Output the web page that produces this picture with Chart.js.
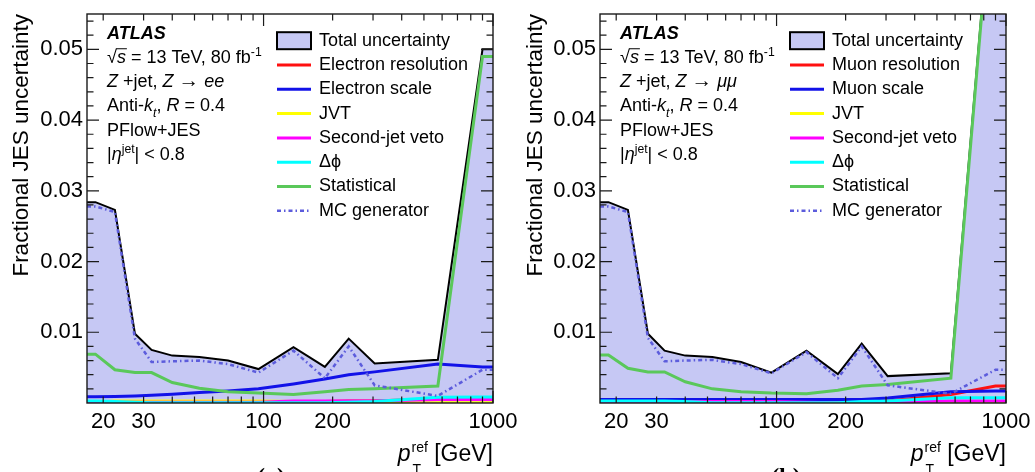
<!DOCTYPE html>
<html>
<head>
<meta charset="utf-8">
<title>Fractional JES uncertainty, Z+jet</title>
<script src="https://cdn.jsdelivr.net/npm/chart.js@4.4.0/dist/chart.umd.min.js"></script>
<style>
  html, body { margin: 0; padding: 0; background: #fff; }
  .panel { position: absolute; top: 0; width: 520px; height: 472px; }
</style>
</head>
<body>
<div class="panel" style="left:0"><canvas id="panelA" width="520" height="472"></canvas></div>
<div class="panel" style="left:515px"><canvas id="panelB" width="520" height="472"></canvas></div>
<script>
// pT(ref) points (GeV): bin centres, plus the two plot edges
const ptBins = [17, 18.5, 22.5, 27.5, 32.5, 40, 52.5, 70, 95, 135, 185, 235, 305, 575, 900, 1000];
const xTickLabels = [20, 30, 100, 200, 1000];
const yTickLabels = [0.01, 0.02, 0.03, 0.04, 0.05];

// (a) Z -> ee
const totalEE   = [0.0284, 0.0284, 0.0273, 0.0098, 0.0075, 0.0067, 0.0065, 0.0060, 0.0048, 0.0079, 0.0051, 0.0091, 0.0056, 0.0061, 0.0500, 0.0500];
const elResEE   = [0.0001, 0.0001, 0.0002, 0.0002, 0.0002, 0.0002, 0.0002, 0.0002, 0.0002, 0.0002, 0.0002, 0.0003, 0.0003, 0.0006, 0.0006, 0.0006];
const elScaleEE = [0.0009, 0.0009, 0.00092, 0.00098, 0.00108, 0.00125, 0.0015, 0.0017, 0.0020, 0.0027, 0.0034, 0.0040, 0.0044, 0.0055, 0.0051, 0.0051];
const jvtEE     = [0.0001, 0.0001, 0.0003, 0.0003, 0.0003, 0.0003, 0.0003, 0.0003, 0.0003, 0.0002, 0.0001, 0.0001, 0.00005, 0.00005, 0.00005, 0.00005];
const vetoEE    = [0.0001, 0.0001, 0.0001, 0.0001, 0.0001, 0.0001, 0.0001, 0.0001, 0.0001, 0.0003, 0.0003, 0.0003, 0.0003, 0.0005, 0.0005, 0.0005];
const dphiEE    = [0.0003, 0.0003, 0.0002, 0.0001, 0.00005, 0.00005, 0.00005, 0.00005, 0.00005, 0.00005, 0.00005, 0.0001, 0.0002, 0.0008, 0.00085, 0.00085];
const statEE    = [0.0069, 0.0069, 0.0047, 0.0043, 0.0043, 0.0029, 0.0021, 0.0016, 0.0014, 0.0012, 0.0016, 0.0019, 0.0020, 0.0024, 0.0490, 0.0490];
const mcEE      = [0.0278, 0.0278, 0.0270, 0.0091, 0.0058, 0.0059, 0.0060, 0.0055, 0.0043, 0.0074, 0.0035, 0.0080, 0.0025, 0.0010, 0.0047, 0.0047];

// (b) Z -> mumu
const totalMM   = [0.0284, 0.0284, 0.0273, 0.0098, 0.0074, 0.0067, 0.0065, 0.0058, 0.0043, 0.0074, 0.0041, 0.0084, 0.0038, 0.0042, 0.0785, 0.0785];
const muResMM   = [0.0002, 0.0002, 0.0002, 0.0002, 0.0002, 0.0002, 0.0002, 0.0002, 0.0002, 0.0002, 0.0002, 0.0002, 0.0003, 0.0012, 0.0024, 0.0024];
const muScaleMM = [0.0005, 0.0005, 0.0005, 0.0005, 0.0005, 0.0005, 0.0005, 0.0005, 0.0005, 0.0005, 0.0005, 0.0005, 0.0007, 0.0016, 0.0017, 0.0017];
const jvtMM     = [0.00005, 0.00005, 0.00005, 0.00005, 0.00005, 0.00005, 0.00005, 0.00005, 0.00005, 0.00005, 0.00005, 0.00005, 0.00005, 0.00005, 0.00005, 0.00005];
const vetoMM    = [0.0001, 0.0001, 0.0002, 0.0002, 0.0002, 0.0002, 0.0002, 0.0002, 0.0002, 0.0001, 0.00005, 0.00005, 0.0001, 0.0003, 0.0003, 0.0003];
const dphiMM    = [0.0003, 0.0003, 0.0003, 0.0003, 0.0003, 0.0002, 0.00005, 0.00005, 0.00005, 0.00005, 0.00005, 0.0002, 0.0003, 0.00075, 0.00075, 0.00075];
const statMM    = [0.0068, 0.0068, 0.0049, 0.0044, 0.0044, 0.0030, 0.0020, 0.0016, 0.0014, 0.0013, 0.0018, 0.0024, 0.0026, 0.0035, 0.0780, 0.0780];
const mcMM      = [0.0278, 0.0278, 0.0270, 0.0092, 0.0059, 0.0060, 0.0061, 0.0055, 0.0042, 0.0072, 0.0035, 0.0080, 0.0025, 0.0013, 0.0047, 0.0047];

const FONT = '"Liberation Sans", Arial, Helvetica, sans-serif';
const FILL = '#c6c8f4';
const xMinor = [20, 30, 40, 50, 60, 70, 80, 90, 100, 200, 300, 400, 500, 600, 700, 800, 900, 1000];

// draws a run of text pieces (italic / bold / sup / sub / overline)
function drawRich(ctx, x, y, parts, size) {
  let cx = x;
  for (const p of parts) {
    const small = p.sup || p.sub;
    const fs = (small ? size * 0.68 : size) * (p.scale || 1);
    ctx.font = (p.b ? 'bold ' : '') + (p.it ? 'italic ' : '') + fs + 'px ' + (p.f || FONT);
    const dy = p.sup ? -size * 0.4 : p.sub ? size * 0.3 : 0;
    ctx.fillText(p.t, cx, y + dy);
    const w = ctx.measureText(p.t).width;
    if (p.over) {
      ctx.beginPath();
      ctx.lineWidth = 1;
      ctx.moveTo(cx - 1, y - size * 0.78);
      ctx.lineTo(cx + w + 1, y - size * 0.78);
      ctx.stroke();
    }
    cx += w;
  }
}

const decor = {
  id: 'decor',
  afterDatasetsDraw(chart, args, o) {
    const ctx = chart.ctx;
    const a = chart.chartArea;
    const xs = chart.scales.x, ys = chart.scales.y;
    ctx.save();
    ctx.fillStyle = '#000';
    ctx.strokeStyle = '#1a1a1a';

    // frame and inward ticks
    ctx.lineWidth = 1.4;
    ctx.strokeRect(a.left, a.top, a.right - a.left, a.bottom - a.top);
    ctx.beginPath();
    ctx.lineWidth = 1.2;
    for (const v of xMinor) {
      const px = xs.getPixelForValue(v);
      const len = (v === 100 || v === 1000) ? 12 : 6.5;
      ctx.moveTo(px, a.bottom); ctx.lineTo(px, a.bottom - len);
      ctx.moveTo(px, a.top); ctx.lineTo(px, a.top + len);
    }
    for (let i = 1; i <= 27; i++) {
      const py = ys.getPixelForValue(i * 0.002);
      const len = i % 5 === 0 ? 12 : 6.5;
      ctx.moveTo(a.left, py); ctx.lineTo(a.left + len, py);
      ctx.moveTo(a.right, py); ctx.lineTo(a.right - len, py);
    }
    ctx.stroke();

    // info block
    ctx.textAlign = 'left';
    ctx.textBaseline = 'alphabetic';
    ctx.strokeStyle = '#000';
    const tx = a.left + 20, ty = a.top + 24.5, step = 24.3;
    const lines = [
      [{ t: 'ATLAS', b: 1, it: 1 }],
      [{ t: '\u221A' }, { t: 's', it: 1, over: 1 }, { t: ' = 13 TeV, 80 fb' }, { t: '-1', sup: 1 }],
      o.decay,
      [{ t: 'Anti-' }, { t: 'k', it: 1 }, { t: 't', it: 1, sub: 1 }, { t: ', ' }, { t: 'R', it: 1 }, { t: ' = 0.4' }],
      [{ t: 'PFlow+JES' }],
      [{ t: '|' }, { t: '\u03B7', it: 1 }, { t: 'jet', sup: 1 }, { t: '| < 0.8' }]
    ];
    lines.forEach((parts, i) => drawRich(ctx, tx, ty + i * step, parts, 18));

    // legend built from the datasets
    const lx = a.left + 190, lw = 34, ltx = a.left + 232;
    ctx.textBaseline = 'middle';
    ctx.font = '18px ' + FONT;
    chart.data.datasets.forEach((ds, i) => {
      const cy = a.top + 26.7 + i * 24.3;
      if (ds.fill) {
        ctx.fillStyle = ds.backgroundColor;
        ctx.fillRect(lx, cy - 8.5, lw, 17);
        ctx.lineWidth = 2;
        ctx.strokeStyle = '#000';
        ctx.strokeRect(lx, cy - 8.5, lw, 17);
      } else {
        ctx.beginPath();
        ctx.setLineDash(ds.borderDash || []);
        ctx.lineWidth = ds.borderWidth;
        ctx.strokeStyle = ds.borderColor;
        ctx.moveTo(lx, cy); ctx.lineTo(lx + lw, cy);
        ctx.stroke();
        ctx.setLineDash([]);
      }
      ctx.fillStyle = '#000';
      ctx.fillText(ds.label, ltx, cy);
    });

    // x axis title
    ctx.textBaseline = 'alphabetic';
    ctx.font = '23px ' + FONT;
    const gev = ' [GeV]';
    const wGev = ctx.measureText(gev).width;
    ctx.textAlign = 'right';
    ctx.fillText(gev, a.right, 461);
    ctx.textAlign = 'left';
    ctx.font = '14px ' + FONT;
    const wRef = ctx.measureText('ref').width;
    const rx = a.right - wGev - wRef;
    ctx.fillText('ref', rx, 452);
    ctx.fillText('T', rx + 1, 474);
    ctx.font = 'italic 23px ' + FONT;
    ctx.fillText('p', rx - ctx.measureText('p').width - 1, 461);

    // y axis title
    ctx.save();
    ctx.translate(o.yTitleX, a.top);
    ctx.rotate(-Math.PI / 2);
    ctx.textAlign = 'right';
    ctx.textBaseline = 'middle';
    ctx.font = '22.5px ' + FONT;
    ctx.fillText('Fractional JES uncertainty', 0, 0);
    ctx.restore();

    // sub-figure tag (cut by the page edge)
    ctx.textAlign = 'center';
    ctx.font = 'bold 24px "Liberation Serif", serif';
    ctx.fillText(o.tag, o.tagX, 484);
    ctx.restore();
  }
};

function buildPanel(canvasId, s, d) {
  const toXY = vals => ptBins.map((x, i) => ({ x, y: vals[i] }));
  const line = (label, vals, color, order, extra) => Object.assign({
    label, data: toXY(vals), borderColor: color, backgroundColor: color,
    borderWidth: 3, pointRadius: 0, fill: false, order, clip: 0
  }, extra || {});
  const datasets = [
    line('Total uncertainty', s.total, '#000000', 10, { borderWidth: 2, backgroundColor: FILL, fill: 'origin' }),
    line(d.resLabel, s.res, '#ff1010', 7),
    line(d.scaleLabel, s.scale, '#1212e8', 6),
    line('JVT', s.jvt, '#ffff00', 5),
    line('Second-jet veto', s.veto, '#ff00ff', 4),
    line('\u0394\u03D5', s.dphi, '#00ffff', 3),
    line('Statistical', s.stat, '#5ac85a', 2),
    line('MC generator', s.mc, '#5c5cdc', 1, { borderWidth: 2.5, borderDash: [4, 3, 1.5, 3] })
  ];

  new Chart(document.getElementById(canvasId), {
    type: 'line',
    data: { datasets },
    options: {
      responsive: false,
      animation: false,
      events: [],
      layout: { padding: { top: 14, right: d.padRight, left: 0, bottom: 0 } },
      scales: {
        x: {
          type: 'logarithmic', min: 17, max: 1000,
          grid: { display: false, drawTicks: false },
          border: { display: false },
          afterBuildTicks: sc => { sc.ticks = xTickLabels.map(v => ({ value: v })); },
          afterFit: sc => { sc.height = 69; sc.paddingLeft = 0; sc.paddingRight = 0; },
          ticks: {
            autoSkip: false, maxRotation: 0, padding: 6, color: '#000',
            font: { family: FONT, size: 22 },
            callback: v => String(v)
          }
        },
        y: {
          min: 0, max: 0.055,
          grid: { display: false, drawTicks: false },
          border: { display: false },
          afterBuildTicks: sc => { sc.ticks = yTickLabels.map(v => ({ value: v })); },
          afterFit: sc => { sc.width = d.axisWidth; sc.paddingTop = 0; sc.paddingBottom = 0; },
          ticks: {
            padding: 4, color: '#000',
            font: { family: FONT, size: 22 },
            callback: v => v.toFixed(2)
          }
        }
      },
      plugins: {
        legend: { display: false },
        tooltip: { enabled: false },
        decor: { decay: d.decay, tag: d.tag, tagX: d.tagX, yTitleX: d.yTitleX }
      }
    },
    plugins: [decor]
  });
}

const ARROW = { t: '\u2192', f: '"Liberation Serif", serif', scale: 1.15 };

buildPanel('panelA',
  { total: totalEE, res: elResEE, scale: elScaleEE, jvt: jvtEE, veto: vetoEE, dphi: dphiEE, stat: statEE, mc: mcEE },
  {
    resLabel: 'Electron resolution', scaleLabel: 'Electron scale',
    decay: [{ t: 'Z', it: 1 }, { t: ' +jet, ' }, { t: 'Z', it: 1 }, { t: ' ' }, ARROW, { t: ' ' }, { t: 'ee', it: 1 }],
    axisWidth: 87, padRight: 27, tag: '(a)', tagX: 271, yTitleX: 22
  });

buildPanel('panelB',
  { total: totalMM, res: muResMM, scale: muScaleMM, jvt: jvtMM, veto: vetoMM, dphi: dphiMM, stat: statMM, mc: mcMM },
  {
    resLabel: 'Muon resolution', scaleLabel: 'Muon scale',
    decay: [{ t: 'Z', it: 1 }, { t: ' +jet, ' }, { t: 'Z', it: 1 }, { t: ' ' }, ARROW, { t: ' ' }, { t: '\u03BC\u03BC', it: 1 }],
    axisWidth: 85, padRight: 29, tag: '(b)', tagX: 271, yTitleX: 21
  });
</script>
</body>
</html>
